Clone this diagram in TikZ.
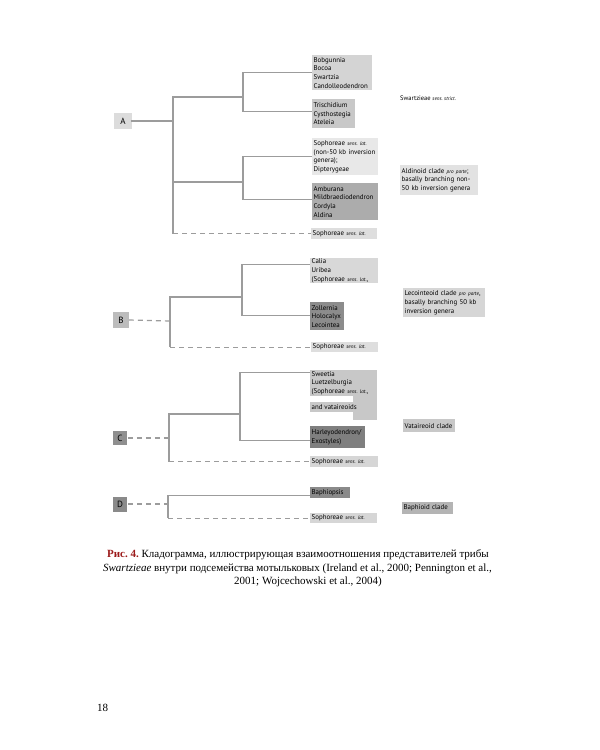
\documentclass[tikz,border=0pt]{standalone}
\usepackage{fontspec}
\setmainfont{Liberation Serif}
\newfontfamily\dia{PT Sans}
\frenchspacing
\newcommand\smit[1]{{\fontsize{5.2}{6}\selectfont\itshape #1}}
\definecolor{linec}{HTML}{9C9C9C}
\definecolor{capred}{HTML}{9B1B1B}
\definecolor{gA}{HTML}{DCDCDC}
\definecolor{gB}{HTML}{BCBCBC}
\definecolor{gC}{HTML}{8F8F8F}
\definecolor{gD}{HTML}{8A8A8A}
\definecolor{gSw}{HTML}{C8C8C8}
\tikzset{
  br/.style={draw=linec, line width=1.2pt},
  dbr/.style={draw=linec, line width=1.2pt, dash pattern=on 5pt off 4pt},
  leaf/.style={anchor=north west, inner xsep=1.5pt, inner ysep=0pt, align=left,
    font=\dia\fontsize{6.9}{8.6}\selectfont\frenchspacing, text=black},
  lbl/.style={anchor=center, inner sep=0pt, font=\dia\fontsize{9}{10}\selectfont},
  captxt/.style={inner sep=0pt, font=\fontsize{11}{13}\selectfont},
}
\begin{document}
\begin{tikzpicture}[x=1pt,y=-1pt]
\useasboundingbox (0,0) rectangle (600,750);
% ---------- Panel A ----------
\fill[gA] (114,113) rectangle (132,129);
\node[lbl] (A) at (123,121) {A};
\node[leaf, fill={rgb,255:red,212;green,212;blue,212}, text width=57pt, minimum height=35pt] (bob) at (312,55) {Bobgunnia\\Bocoa\\Swartzia\\Candolleodendron};
\node[leaf, fill={rgb,255:red,200;green,200;blue,200}, text width=40pt, minimum height=29pt] (tri) at (312,99) {Trischidium\\Cysthostegia\\Ateleia};
\node[leaf, fill={rgb,255:red,232;green,232;blue,232}, text width=63pt, minimum height=37pt] (nso) at (312,138) {Sophoreae \smit{sens. lat.}\\(non-50 kb inversion\\genera);\\Dipterygeae};
\node[leaf, fill={rgb,255:red,172;green,172;blue,172}, text width=63pt, minimum height=37pt] (amb) at (312,183) {Amburana\\Mildbraediodendron\\Cordyla\\Aldina};
\node[leaf, fill={rgb,255:red,222;green,222;blue,222}, text width=63pt, minimum height=11pt] (sA) at (311,228) {Sophoreae \smit{sens. lat.}};
\node[anchor=west, inner sep=0pt, font=\dia\fontsize{6.5}{8}\selectfont\upshape] (swl) at (400,98) {Swartzieae \smit{sens. strict.}};
\node[leaf, fill={rgb,255:red,226;green,226;blue,226}, text width=75pt, minimum height=30pt] (ald) at (400,165) {Aldinoid clade \smit{pro parte};\\basally branching non-\\50 kb inversion genera};
\coordinate (rA) at (173,121);
\coordinate (cA1) at (243,97);
\coordinate (cA2) at (243,182);
\draw[br] ([xshift=5pt]A.east) -- (rA);
\draw[br] (cA1) -| (rA) |- (cA2);
\draw[br] (rA) -- (rA |- sA.west);
\draw[dbr] (rA |- sA.west) -- (sA.west);
\draw[br] (bob.west) -| (cA1) |- ([yshift=2pt]tri.west);
\draw[br] (nso.west) -| (cA2) |- ([yshift=2pt]amb.west);
% ---------- Panel B ----------
\fill[gB] (113,312) rectangle (129,328);
\node[lbl] (B) at (121,320) {B};
\node[leaf, fill={rgb,255:red,216;green,216;blue,216}, text width=65pt, minimum height=25pt] (cal) at (310,258) {Calia\\Uribea\\(Sophoreae \smit{sens. lat.},};
\node[leaf, fill={rgb,255:red,140;green,140;blue,140}, text width=31pt, minimum height=28pt] (zol) at (310,302) {Zollernia\\Holocalyx\\Lecointea};
\node[leaf, fill={rgb,255:red,222;green,222;blue,222}, text width=64pt, minimum height=10pt] (sB) at (311,342) {Sophoreae \smit{sens. lat.}};
\node[leaf, fill={rgb,255:red,214;green,214;blue,214}, text width=79pt, minimum height=29pt] (lec) at (403,288) {Lecointeoid clade \smit{pro parte},\\basally branching 50 kb\\inversion genera};
\coordinate (rB) at (170,321);
\coordinate (cB1) at (242,297);
\draw[dbr] ([xshift=5pt]B.east) -- (rB);
\draw[br] (cB1) -| (rB) -- (rB |- sB.west);
\draw[dbr] (rB |- sB.west) -- (sB.west);
\draw[br] ([yshift=6pt]cal.west) -| (cB1) |- ([yshift=1pt]zol.west);
% ---------- Panel C ----------
\fill[gC] (113,431) rectangle (127,445);
\node[lbl] (C) at (120,438) {C};
\fill[gSw] (353,396) rectangle (377,420);
\node[leaf, fill={rgb,255:red,200;green,200;blue,200}, text width=64pt, minimum height=26pt] (swe) at (310,370) {Sweetia\\Luetzelburgia\\(Sophoreae \smit{sens. lat.},};
\node[leaf, fill={rgb,255:red,200;green,200;blue,200}, minimum width=43pt, minimum height=10pt] (vat) at (310,402) {and vataireoids};
\node[leaf, fill={rgb,255:red,127;green,127;blue,127}, text width=52pt, minimum height=22pt] (har) at (310,426) {Harleyodendron/\\Exostyles)};
\node[leaf, fill={rgb,255:red,214;green,214;blue,214}, text width=65pt, minimum height=11pt] (sC) at (310,456) {Sophoreae \smit{sens. lat.}};
\node[leaf, fill={rgb,255:red,200;green,200;blue,200}, text width=49pt, minimum height=13pt] (vcl) at (403,419) {Vataireoid clade};
\coordinate (rC) at (169,438);
\coordinate (cC1) at (240,414);
\draw[dbr] ([xshift=5pt]C.east) -- (rC);
\draw[br] (cC1) -| (rC) -- (rC |- sC.west);
\draw[dbr] (rC |- sC.west) -- (sC.west);
\draw[br] ([yshift=11pt]swe.west) -| (cC1) |- ([yshift=-3pt]har.west);
% ---------- Panel D ----------
\fill[gD] (113,497) rectangle (127,512);
\node[lbl] (D) at (120,504) {D};
\node[leaf, fill={rgb,255:red,138;green,138;blue,138}, text width=37pt, minimum height=11pt] (bap) at (310,487) {Baphiopsis};
\node[leaf, fill={rgb,255:red,214;green,214;blue,214}, text width=64pt, minimum height=10pt] (sD) at (310,513) {Sophoreae \smit{sens. lat.}};
\node[leaf, fill={rgb,255:red,180;green,180;blue,180}, text width=48pt, minimum height=12pt] (bcl) at (402,502) {Baphioid clade};
\coordinate (rD) at (168,504);
\draw[dbr] ([xshift=5pt]D.east) -- (rD);
\draw[br] ([yshift=-3pt]bap.west) -| (rD) -- (rD |- sD.west);
\draw[dbr] (rD |- sD.west) -- (sD.west);
% ---------- Caption ----------
\node[captxt] (cap1) at (298,555) {\textcolor{capred}{\textbf{Рис. 4.}} Кладограмма, иллюстрирующая взаимоотношения представителей трибы};
\node[captxt] (cap2) at (297.5,569) {\textit{Swartzieae} внутри подсемейства мотыльковых (Ireland et al., 2000; Pennington et al.,};
\node[captxt] (cap3) at (308,582) {2001; Wojcechowski et al., 2004)};
\node[inner sep=0pt, anchor=west, font=\fontsize{11}{13}\selectfont] (pg) at (97,708) {18};
\end{tikzpicture}
\end{document}
